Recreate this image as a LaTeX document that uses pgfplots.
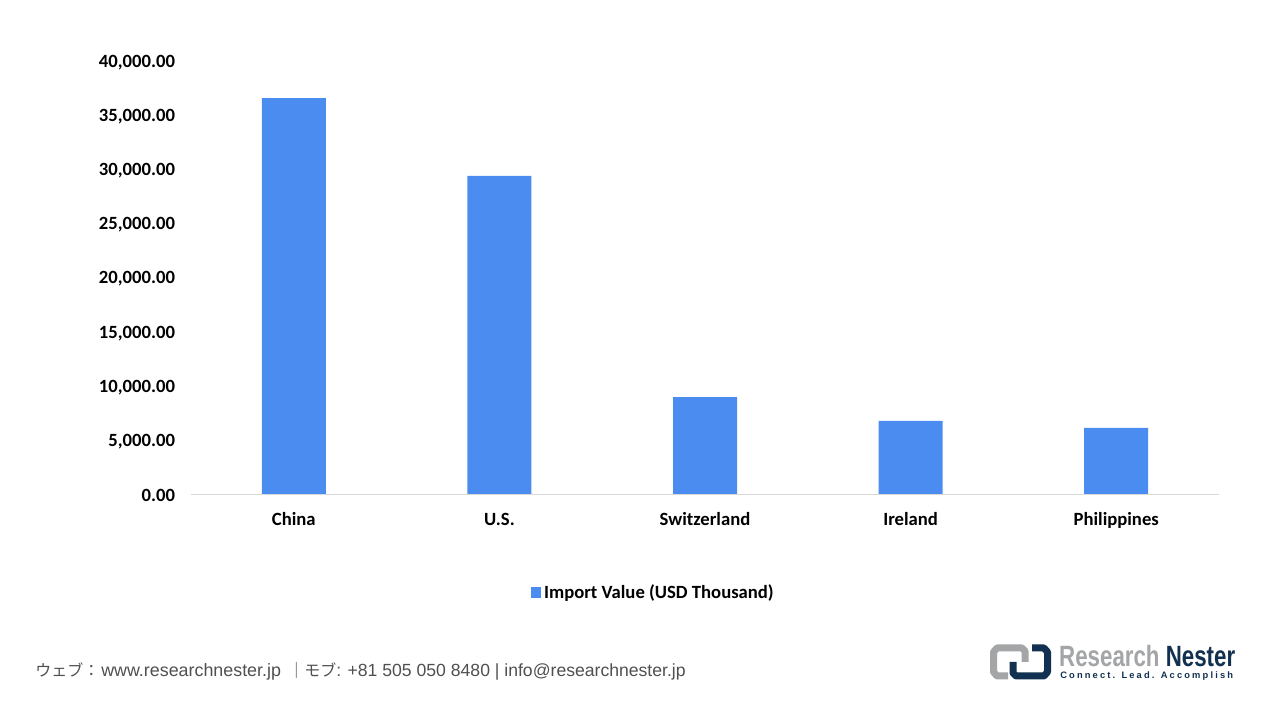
\documentclass[border=0pt]{standalone}
\usepackage{pgfplots}
\pgfplotsset{compat=1.18}
\usepackage{fontspec}
\setmainfont{Carlito}
\newfontfamily\cjk{Noto Sans CJK JP}
\newfontfamily\logofont{Liberation Sans}
\definecolor{barblue}{HTML}{4A8CF0}
\definecolor{axisgrey}{HTML}{D9D9D9}
\definecolor{logogrey}{HTML}{A3A5A7}
\definecolor{logonavy}{HTML}{12304F}
\definecolor{foot}{HTML}{505050}
\pgfplotstableread{
idx value
0 36580
1 29380
2 8960
3 6750
4 6100
}\importdata
\begin{document}
\begin{tikzpicture}
\path[use as bounding box,fill=white] (0pt,0pt) rectangle (960pt,540pt);
\begin{axis}[
  at={(143.25pt,169.5pt)}, anchor=south west,
  scale only axis, width=771pt, height=324.75pt,
  xmin=-0.5, xmax=4.5, ymin=0, ymax=40000,
  axis y line=left, axis x line=bottom,
  axis line style={draw=axisgrey,-},
  y axis line style={draw=none},
  xtick={0,1,2,3,4},
  xticklabels={China,U.S.,Switzerland,Ireland,Philippines},
  ytick={0,5000,10000,15000,20000,25000,30000,35000,40000},
  major tick length=0pt,
  tick label style={font=\fontsize{14pt}{16pt}\selectfont\bfseries,text=black},
  x tick label style={anchor=base,yshift=-23.7pt},
  y tick label style={xshift=-8.5pt,yshift=-1.2pt},
  scaled y ticks=false,
  yticklabel style={/pgf/number format/.cd,fixed,fixed zerofill,precision=2,1000 sep={,},assume math mode=true},
  ybar, bar width=48pt, bar shift=0pt,
  legend style={at={(0.45,-0.2275)},anchor=center,draw=none,fill=none,
    font=\fontsize{14pt}{16pt}\selectfont\bfseries,legend columns=1,
    inner sep=0pt,cells={anchor=west,xshift=1.5pt}},
  legend image code/.code={\fill[barblue] (0pt,-3.9pt) rectangle (8pt,3.9pt);},
]
\addplot[fill=barblue,draw=none] table[x=idx,y=value] {\importdata};
\addlegendentry{Import Value (USD Thousand)}
\end{axis}
\begin{scope}[shift={(0pt,540pt)},x=0.75pt,y=-0.75pt]
\node[anchor=base west,text=foot,inner sep=0pt,font=\fontsize{12pt}{14pt}\selectfont] at (35,676.5)
  {\cjk ウェブ：};
\node[anchor=base west,text=foot,inner sep=0pt,font=\fontsize{13.4pt}{14pt}\selectfont] at (101,676.5)
  {\logofont www.researchnester.jp};
\node[anchor=base west,text=foot,inner sep=0pt,font=\fontsize{12pt}{14pt}\selectfont] at (288,676.5)
  {\cjk ｜モブ};
\node[anchor=base west,text=foot,inner sep=0pt,font=\fontsize{13.2pt}{14pt}\selectfont] at (336,676.5)
  {\logofont: +81 505 050 8480 | info@researchnester.jp};
% logo
\draw[logogrey,line width=5.25pt,line join=round]
  (1008,676) -- (997,676) -- (993.5,672) -- (993.5,652) -- (997,648) -- (1022,648) -- (1025,651) -- (1025,662);
\draw[logonavy,line width=5.25pt,line join=round]
  (1032,648) -- (1044,648) -- (1047.5,652) -- (1047.5,672) -- (1044,676) -- (1016,676) -- (1013,673) -- (1013,662);
\node[anchor=west,inner sep=0pt,xscale=0.76] at (1059,656)
  {\logofont\bfseries\fontsize{22pt}{24pt}\selectfont\textcolor{logogrey}{Research} \textcolor{logonavy}{Nester}};
\node[anchor=west,inner sep=0pt] at (1060,676.5)
  {\logofont\bfseries\fontsize{7pt}{8pt}\selectfont\addfontfeature{LetterSpace=23}\textcolor{logonavy}{Connect. Lead. Accomplish}};
\end{scope}
\end{tikzpicture}
\end{document}
